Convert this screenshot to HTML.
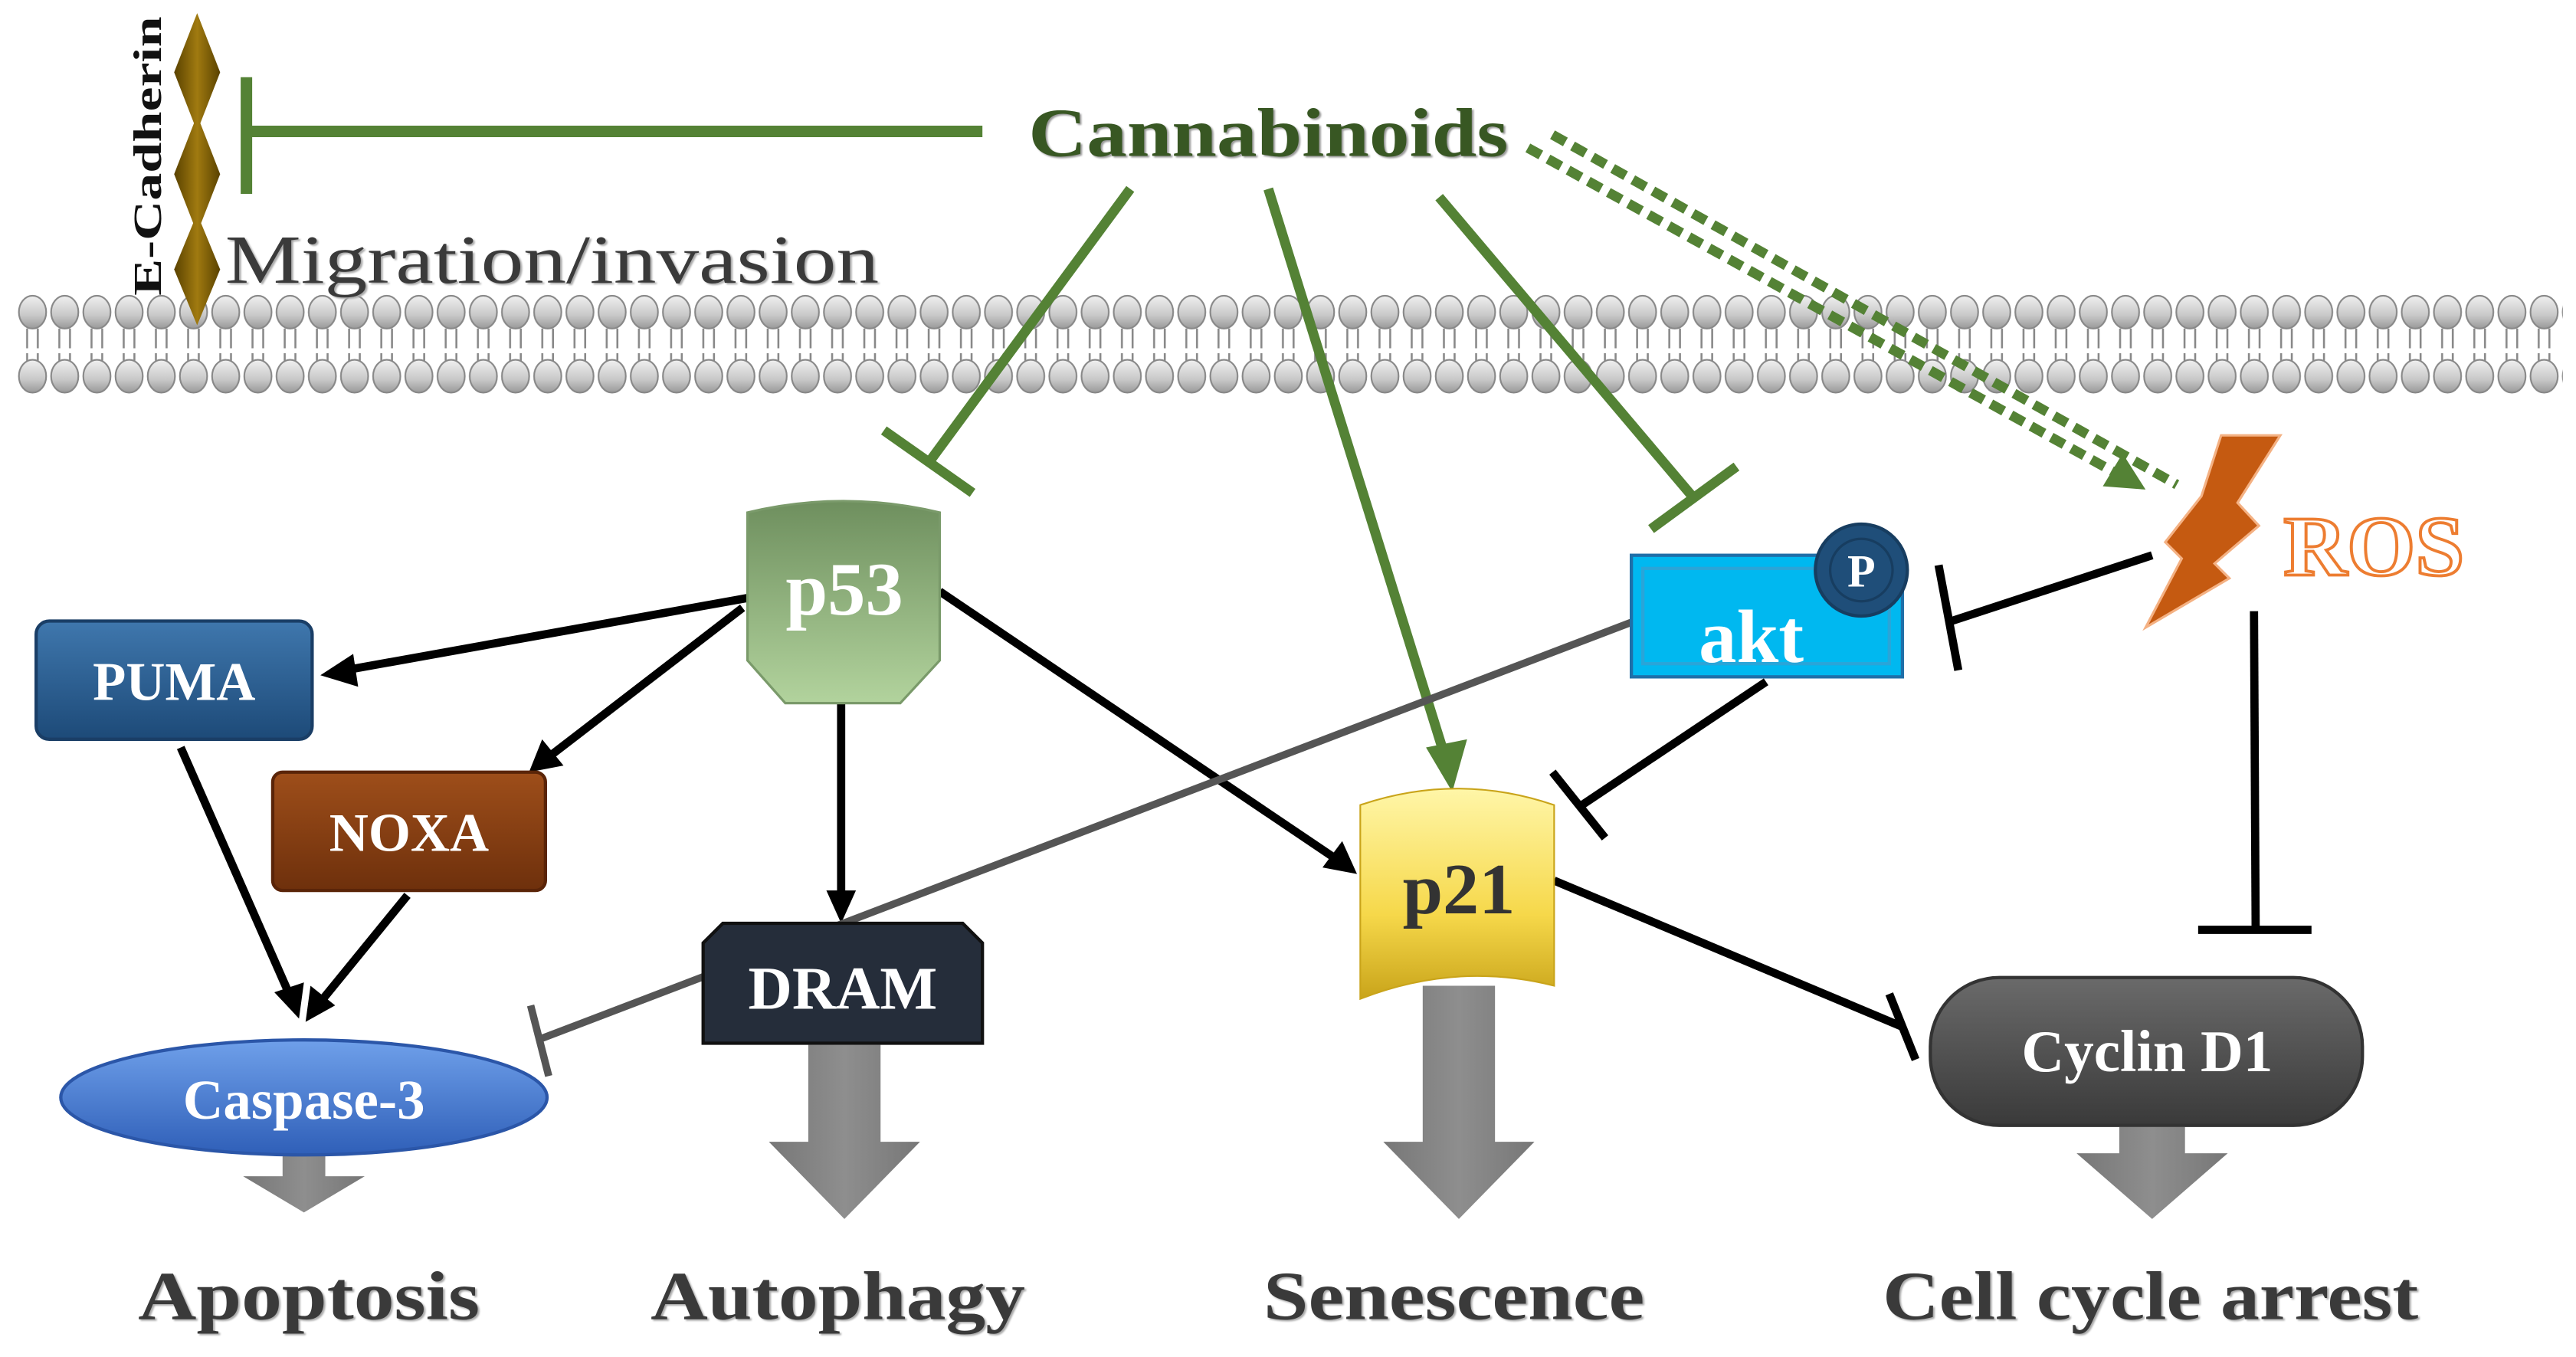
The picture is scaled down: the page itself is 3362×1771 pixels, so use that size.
<!DOCTYPE html>
<html><head><meta charset="utf-8"><style>html,body{margin:0;padding:0;background:#fff}svg{display:block}</style></head>
<body>
<svg width="3362" height="1771" viewBox="0 0 1568 826" preserveAspectRatio="none" xmlns="http://www.w3.org/2000/svg" font-family="Liberation Serif, serif">
<defs>
<linearGradient id="mem" x1="0" y1="0" x2="0" y2="1"><stop offset="0" stop-color="#f0f0f0"/><stop offset="0.6" stop-color="#c8c8c8"/><stop offset="1" stop-color="#999"/></linearGradient>
<linearGradient id="dia" x1="0" y1="0" x2="1" y2="0"><stop offset="0" stop-color="#5a4200"/><stop offset="0.5" stop-color="#a07a10"/><stop offset="1" stop-color="#5a4200"/></linearGradient>
<linearGradient id="p53g" x1="0" y1="0" x2="0" y2="1"><stop offset="0" stop-color="#6e8f5e"/><stop offset="1" stop-color="#b2d39d"/></linearGradient>
<linearGradient id="p21g" x1="0" y1="0" x2="0" y2="1"><stop offset="0" stop-color="#fff6a8"/><stop offset="0.6" stop-color="#f6d84a"/><stop offset="1" stop-color="#c9a41a"/></linearGradient>
<linearGradient id="pumag" x1="0" y1="0" x2="0" y2="1"><stop offset="0" stop-color="#3f77ad"/><stop offset="1" stop-color="#1d4a78"/></linearGradient>
<linearGradient id="noxag" x1="0" y1="0" x2="0" y2="1"><stop offset="0" stop-color="#9e4e1a"/><stop offset="1" stop-color="#6e300c"/></linearGradient>
<linearGradient id="casg" x1="0" y1="0" x2="0" y2="1"><stop offset="0" stop-color="#6fa0ea"/><stop offset="1" stop-color="#2f5fb8"/></linearGradient>
<linearGradient id="cycg" x1="0" y1="0" x2="0" y2="1"><stop offset="0" stop-color="#6a6a6a"/><stop offset="1" stop-color="#3a3a3a"/></linearGradient>
<linearGradient id="arrg" x1="0" y1="0" x2="1" y2="0"><stop offset="0" stop-color="#777"/><stop offset="0.5" stop-color="#8e8e8e"/><stop offset="1" stop-color="#777"/></linearGradient>
<pattern id="memTop" x="10" y="0" width="19.6" height="826" patternUnits="userSpaceOnUse">
<ellipse cx="9.8" cy="190" rx="8.3" ry="10" fill="url(#mem)" stroke="#888" stroke-width="1"/>
<line x1="6.5" y1="200" x2="6.5" y2="212" stroke="#888" stroke-width="1.2"/><line x1="13" y1="200" x2="13" y2="212" stroke="#888" stroke-width="1.2"/>
<line x1="6.5" y1="215" x2="6.5" y2="224" stroke="#888" stroke-width="1.2"/><line x1="13" y1="215" x2="13" y2="224" stroke="#888" stroke-width="1.2"/>
<ellipse cx="9.8" cy="229" rx="8.3" ry="10" fill="url(#mem)" stroke="#888" stroke-width="1"/>
</pattern>
</defs>

<rect x="10" y="178" width="1550" height="64" fill="url(#memTop)"/>

<polygon points="120,8 134,44 120,80 106,44" fill="url(#dia)"/>
<polygon points="120,70 134,106 120,142 106,106" fill="url(#dia)"/>
<polygon points="120,130 134,164 120,198 106,164" fill="url(#dia)"/>
<text transform="translate(98,180) rotate(-90)" font-size="24" font-weight="bold" fill="#111" textLength="170" lengthAdjust="spacingAndGlyphs">E-Cadherin</text>

<line x1="150" y1="80" x2="598" y2="80" stroke="#548235" stroke-width="7"/>
<line x1="150" y1="47" x2="150" y2="118" stroke="#548235" stroke-width="7"/>

<text x="137" y="172" font-size="42" fill="#3a3a3a" textLength="398" lengthAdjust="spacingAndGlyphs" style="text-shadow:2px 2px 2px #aaa">Migration/invasion</text>
<text x="626" y="95" font-size="42" font-weight="bold" fill="#385723" textLength="292" lengthAdjust="spacingAndGlyphs" style="text-shadow:2px 2px 2px #999">Cannabinoids</text>

<g stroke="#548235" stroke-width="6" fill="none">
<line x1="688" y1="115" x2="565" y2="282"/>
<line x1="538" y1="262" x2="592" y2="300"/>
<line x1="772" y1="115" x2="880" y2="462"/>
<line x1="876" y1="120" x2="1030" y2="302"/>
<line x1="1005" y1="322" x2="1057" y2="284"/>
<line x1="930" y1="90" x2="1288" y2="288" stroke-dasharray="9,5"/>
<line x1="945" y1="82" x2="1325" y2="295" stroke-dasharray="9,5"/>
</g>
<polygon points="884,482 868,455 893,450" fill="#548235"/>
<polygon points="1306,298 1280,296 1292,276" fill="#548235"/>

<polygon points="1352,265 1388,265 1362,306 1375,320 1348,343 1357,352 1306,382 1328,340 1318,330 1340,302" fill="#c55a11" stroke="#f4b183" stroke-width="1.5"/>
<text x="1390" y="350" font-size="52" font-weight="bold" fill="#fff" stroke="#ed7d31" stroke-width="1.8" textLength="110" lengthAdjust="spacingAndGlyphs">ROS</text>

<g stroke="#000" stroke-width="5" fill="none">
<line x1="1310" y1="338" x2="1188" y2="378"/>
<line x1="1180" y1="344" x2="1192" y2="408"/>
<line x1="1372" y1="372" x2="1373" y2="564"/>
<line x1="1338" y1="566" x2="1407" y2="566"/>
<line x1="1075" y1="415" x2="963" y2="490"/>
<line x1="945" y1="470" x2="977" y2="510"/>
<line x1="946" y1="536" x2="1158" y2="625"/>
<line x1="1150" y1="605" x2="1166" y2="645"/>
<line x1="455" y1="364" x2="210" y2="408"/>
<line x1="452" y1="370" x2="335" y2="460"/>
<line x1="512" y1="428" x2="512" y2="545"/>
<line x1="572" y1="360" x2="812" y2="522"/>
<line x1="110" y1="455" x2="176" y2="605"/>
<line x1="248" y1="545" x2="195" y2="610"/>
</g>
<g fill="#000">
<polygon points="195,411 215,398 218,418"/>
<polygon points="322,470 330,450 343,466"/>
<polygon points="512,562 503,542 521,542"/>
<polygon points="826,532 805,528 817,512"/>
<polygon points="182,620 167,604 185,598"/>
<polygon points="186,622 189,600 204,612"/>
</g>
<line x1="995" y1="378" x2="330" y2="632" stroke="#555" stroke-width="4.5"/>
<line x1="323" y1="612" x2="334" y2="655" stroke="#555" stroke-width="4.5"/>

<g fill="url(#arrg)">
<polygon points="172,700 198,700 198,716 222,716 185,738 148,716 172,716"/>
<polygon points="492,636 536,636 536,695 560,695 514,742 468,695 492,695"/>
<polygon points="866,600 910,600 910,695 934,695 888,742 842,695 866,695"/>
<polygon points="1290,686 1330,686 1330,702 1356,702 1310,742 1264,702 1290,702"/>
</g>

<path d="M455,312 Q513,298 572,312 L572,402 L548,428 L478,428 L455,402 Z" fill="url(#p53g)" stroke="#7a9a6a" stroke-width="1.5"/>
<text x="514" y="374" font-size="46" font-weight="bold" fill="#fff" text-anchor="middle">p53</text>

<rect x="22" y="378" width="168" height="72" rx="8" fill="url(#pumag)" stroke="#1a3e66" stroke-width="2"/>
<text x="106" y="426" font-size="33" font-weight="bold" fill="#fff" text-anchor="middle">PUMA</text>
<rect x="166" y="470" width="166" height="72" rx="6" fill="url(#noxag)" stroke="#5a2408" stroke-width="2"/>
<text x="249" y="518" font-size="33" font-weight="bold" fill="#fff" text-anchor="middle">NOXA</text>
<polygon points="440,562 586,562 598,574 598,635 428,635 428,574" fill="#252d3a" stroke="#111" stroke-width="2"/>
<text x="513" y="614" font-size="37" font-weight="bold" fill="#fff" text-anchor="middle">DRAM</text>
<ellipse cx="185" cy="668" rx="148" ry="35" fill="url(#casg)" stroke="#2b56a8" stroke-width="2"/>
<text x="185" y="681" font-size="34" font-weight="bold" fill="#fff" text-anchor="middle">Caspase-3</text>
<path d="M828,490 Q887,470 946,490 L946,600 Q887,585 828,608 Z" fill="url(#p21g)" stroke="#c9a41a" stroke-width="1"/>
<text x="888" y="556" font-size="44" font-weight="bold" fill="#333" text-anchor="middle">p21</text>
<rect x="993" y="338" width="165" height="74" fill="#00b8f0" stroke="#1f6fa8" stroke-width="2"/>
<rect x="1000" y="346" width="150" height="58" fill="none" stroke="#2aa5d8" stroke-width="2"/>
<text x="1066" y="403" font-size="46" font-weight="bold" fill="#fff" text-anchor="middle">akt</text>
<circle cx="1133" cy="347" r="28" fill="#1f4e79" stroke="#173d60" stroke-width="2"/>
<circle cx="1133" cy="347" r="19" fill="none" stroke="#173d60" stroke-width="1.5"/>
<text x="1133" y="357" font-size="28" font-weight="bold" fill="#fff" text-anchor="middle">P</text>
<rect x="1175" y="595" width="263" height="90" rx="42" fill="url(#cycg)" stroke="#333" stroke-width="2"/>
<text x="1307" y="652" font-size="36" font-weight="bold" fill="#fff" text-anchor="middle">Cyclin D1</text>

<g font-size="42" font-weight="bold" fill="#3a3a3a" style="text-shadow:2px 2px 2px #aaa">
<text x="84" y="803" textLength="208" lengthAdjust="spacingAndGlyphs">Apoptosis</text>
<text x="396" y="803" textLength="228" lengthAdjust="spacingAndGlyphs">Autophagy</text>
<text x="769" y="803" textLength="232" lengthAdjust="spacingAndGlyphs">Senescence</text>
<text x="1146" y="803" textLength="326" lengthAdjust="spacingAndGlyphs">Cell cycle arrest</text>
</g>
</svg>
</body></html>
